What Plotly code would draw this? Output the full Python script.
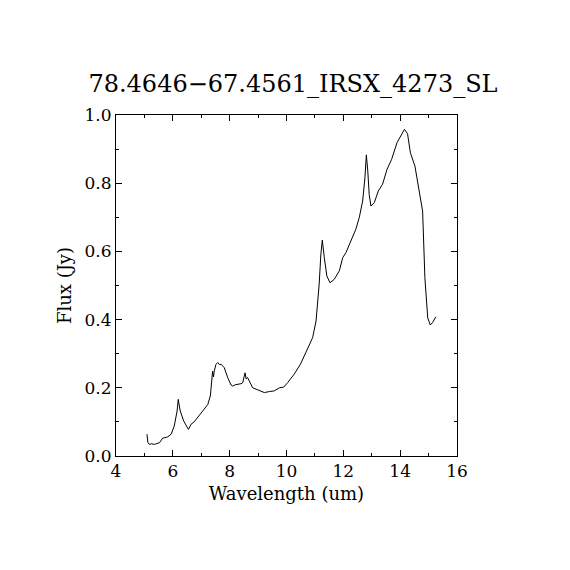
import plotly.graph_objects as go

# --- DATA ---
wavelength = [5.09, 5.12, 5.17, 5.25, 5.35, 5.45, 5.53, 5.64, 5.75, 5.82, 5.94, 6.05, 6.15,
              6.19, 6.26, 6.38, 6.55, 6.64, 6.75, 6.87, 7.05, 7.23, 7.32, 7.40, 7.43, 7.46,
              7.52, 7.58, 7.64, 7.70, 7.81, 7.93, 8.05, 8.11, 8.20, 8.28, 8.40, 8.46, 8.50,
              8.54, 8.58, 8.63, 8.81, 9.00, 9.22, 9.40, 9.57, 9.75, 9.90, 10.04, 10.27,
              10.49, 10.74, 10.92, 11.04, 11.15, 11.21, 11.26, 11.33, 11.42, 11.53, 11.68,
              11.86, 11.98, 12.09, 12.27, 12.44, 12.56, 12.68, 12.76, 12.81, 12.86, 12.91,
              12.97, 13.09, 13.23, 13.38, 13.54, 13.70, 13.89, 14.03, 14.15, 14.26, 14.36,
              14.52, 14.67, 14.79, 14.87, 14.97, 15.06, 15.14, 15.25]
flux = [0.064, 0.040, 0.034, 0.036, 0.034, 0.037, 0.039, 0.052, 0.054, 0.056, 0.064, 0.088,
        0.132, 0.166, 0.132, 0.103, 0.078, 0.093, 0.100, 0.112, 0.132, 0.151, 0.176, 0.249,
        0.232, 0.250, 0.269, 0.274, 0.268, 0.269, 0.259, 0.230, 0.208, 0.205, 0.209, 0.210,
        0.212, 0.215, 0.228, 0.244, 0.226, 0.230, 0.200, 0.193, 0.186, 0.189, 0.191, 0.200,
        0.202, 0.215, 0.240, 0.269, 0.313, 0.347, 0.396, 0.504, 0.592, 0.633, 0.582,
        0.528, 0.508, 0.518, 0.543, 0.582, 0.596, 0.631, 0.665, 0.699, 0.748, 0.816,
        0.883, 0.836, 0.767, 0.733, 0.743, 0.777, 0.797, 0.841, 0.870, 0.919, 0.938,
        0.958, 0.945, 0.889, 0.850, 0.777, 0.718, 0.523, 0.405, 0.384, 0.391, 0.408]

title = "78.4646\u221267.4561_IRSX_4273_SL"
font_family = "DejaVu Serif"

fig = go.Figure(
    go.Scatter(x=wavelength, y=flux, mode="lines",
               line=dict(color="black", width=1), showlegend=False)
)

axis_common = dict(
    showgrid=False, zeroline=False,
    showline=True, linecolor="black", linewidth=1, mirror="ticks",
    ticks="inside", ticklen=6, tickcolor="black", tickwidth=1,
    tickfont=dict(family=font_family, size=17, color="black"),
)

fig.update_xaxes(
    range=[4, 16], tickvals=[4, 6, 8, 10, 12, 14, 16],
    minor=dict(dtick=1, tick0=4, ticks="inside", ticklen=3, tickcolor="black"),
    title=dict(text="Wavelength (um)", font=dict(family=font_family, size=18, color="black"),
               standoff=6),
    **axis_common,
)
fig.update_yaxes(
    range=[0, 1], tickvals=[0, 0.2, 0.4, 0.6, 0.8, 1.0], tickformat=".1f",
    minor=dict(dtick=0.1, tick0=0, ticks="inside", ticklen=3, tickcolor="black"),
    title=dict(text="Flux (Jy)", font=dict(family=font_family, size=18, color="black"),
               standoff=8),
    **axis_common,
)

fig.update_layout(
    width=570, height=570,
    margin=dict(l=108, r=121, t=107, b=122),
    paper_bgcolor="white", plot_bgcolor="white",
    title=dict(text=title, x=0.5, xanchor="center", y=0.867, yanchor="middle",
               font=dict(family=font_family, size=24, color="black")),
)

fig.write_html("out.html")
